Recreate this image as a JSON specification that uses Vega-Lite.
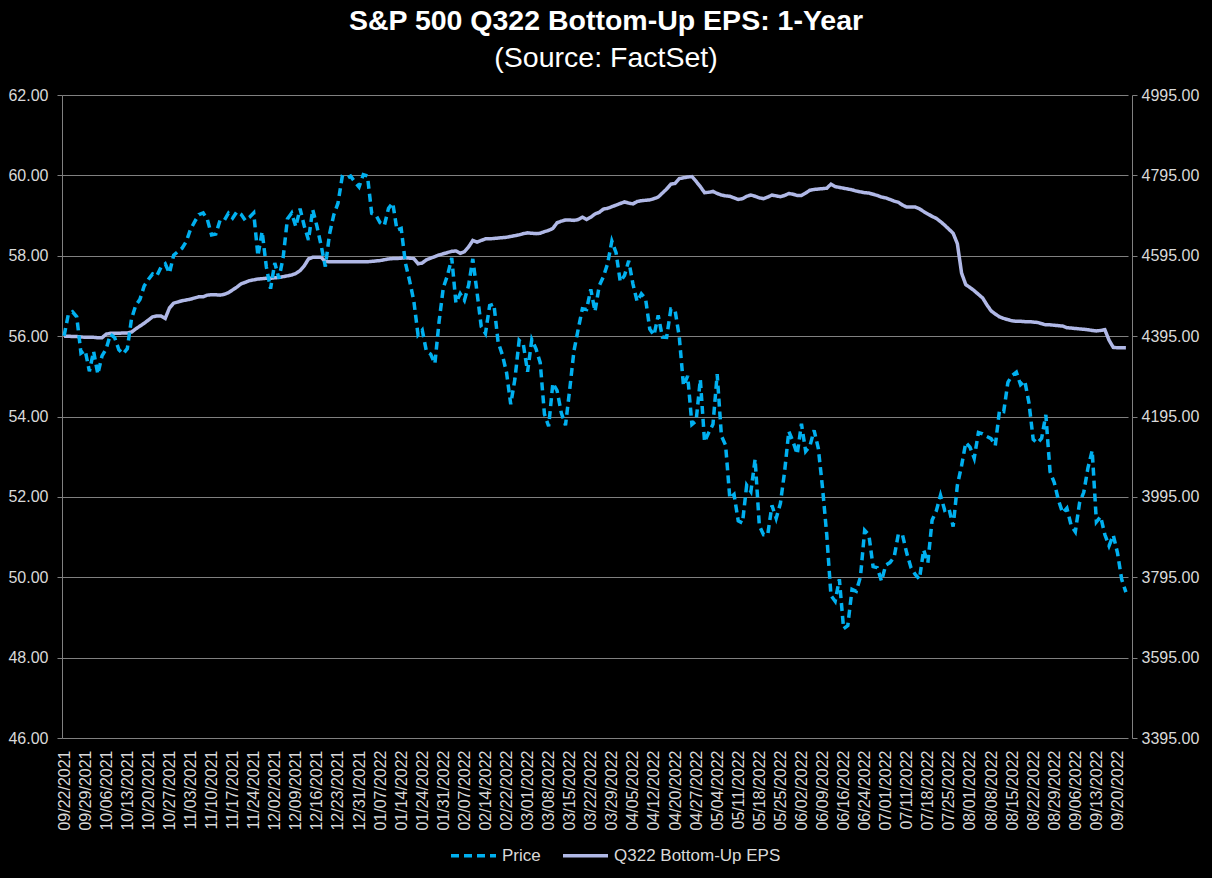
{
"$schema": "https://vega.github.io/schema/vega-lite/v6.json",
"width": 1070, "height": 643,
"autosize": {"type": "none"},
"padding": {"left": 62, "top": 95, "right": 80, "bottom": 140},
"background": "#000000",
"title": {"text": "S&P 500 Q322 Bottom-Up EPS: 1-Year", "subtitle": "(Source: FactSet)", "anchor": "middle", "frame": "group", "dx": 9, "offset": 15, "color": "#ffffff", "subtitleColor": "#ffffff", "font": "Liberation Sans", "fontSize": 28.5, "fontWeight": "bold", "subtitleFont": "Liberation Sans", "subtitleFontSize": 28.5, "subtitleFontWeight": "normal", "subtitlePadding": 8},
"config": {"view": {"stroke": null}, "axis": {"labelFont": "Liberation Sans", "labelColor": "#d9d9d9", "labelFontSize": 16, "domainColor": "#808080", "tickColor": "#808080", "gridColor": "#808080", "title": null}},
"data": {"values": [
{"d":"09/22/2021","price":4395.64,"eps":56.00},
{"d":"09/23/2021","price":4448.98,"eps":56.00},
{"d":"09/24/2021","price":4455.48,"eps":55.99},
{"d":"09/27/2021","price":4443.11,"eps":55.99},
{"d":"09/28/2021","price":4352.63,"eps":55.98},
{"d":"09/29/2021","price":4359.46,"eps":55.97},
{"d":"09/30/2021","price":4307.54,"eps":55.97},
{"d":"10/01/2021","price":4357.04,"eps":55.97},
{"d":"10/04/2021","price":4300.46,"eps":55.96},
{"d":"10/05/2021","price":4345.72,"eps":55.96},
{"d":"10/06/2021","price":4363.55,"eps":56.05},
{"d":"10/07/2021","price":4399.76,"eps":56.07},
{"d":"10/08/2021","price":4391.34,"eps":56.07},
{"d":"10/11/2021","price":4361.19,"eps":56.07},
{"d":"10/12/2021","price":4350.65,"eps":56.08},
{"d":"10/13/2021","price":4363.80,"eps":56.08},
{"d":"10/14/2021","price":4438.26,"eps":56.10},
{"d":"10/15/2021","price":4471.37,"eps":56.18},
{"d":"10/18/2021","price":4486.46,"eps":56.25},
{"d":"10/19/2021","price":4519.63,"eps":56.32},
{"d":"10/20/2021","price":4536.19,"eps":56.40},
{"d":"10/21/2021","price":4549.78,"eps":56.48},
{"d":"10/22/2021","price":4544.90,"eps":56.50},
{"d":"10/25/2021","price":4566.48,"eps":56.50},
{"d":"10/26/2021","price":4574.79,"eps":56.44},
{"d":"10/27/2021","price":4551.68,"eps":56.70},
{"d":"10/28/2021","price":4596.42,"eps":56.82},
{"d":"10/29/2021","price":4605.38,"eps":56.85},
{"d":"11/01/2021","price":4613.67,"eps":56.88},
{"d":"11/02/2021","price":4630.65,"eps":56.90},
{"d":"11/03/2021","price":4660.57,"eps":56.92},
{"d":"11/04/2021","price":4680.06,"eps":56.95},
{"d":"11/05/2021","price":4697.53,"eps":56.98},
{"d":"11/08/2021","price":4701.70,"eps":56.98},
{"d":"11/09/2021","price":4685.25,"eps":57.02},
{"d":"11/10/2021","price":4646.71,"eps":57.03},
{"d":"11/11/2021","price":4649.27,"eps":57.03},
{"d":"11/12/2021","price":4682.85,"eps":57.02},
{"d":"11/15/2021","price":4682.80,"eps":57.04},
{"d":"11/16/2021","price":4700.90,"eps":57.08},
{"d":"11/17/2021","price":4688.67,"eps":57.15},
{"d":"11/18/2021","price":4704.54,"eps":57.22},
{"d":"11/19/2021","price":4697.96,"eps":57.30},
{"d":"11/22/2021","price":4682.94,"eps":57.34},
{"d":"11/23/2021","price":4690.70,"eps":57.38},
{"d":"11/24/2021","price":4701.46,"eps":57.40},
{"d":"11/26/2021","price":4594.62,"eps":57.42},
{"d":"11/29/2021","price":4655.27,"eps":57.43},
{"d":"11/30/2021","price":4567.00,"eps":57.44},
{"d":"12/01/2021","price":4513.04,"eps":57.44},
{"d":"12/02/2021","price":4577.10,"eps":57.45},
{"d":"12/03/2021","price":4538.43,"eps":57.46},
{"d":"12/06/2021","price":4591.67,"eps":57.48},
{"d":"12/07/2021","price":4686.75,"eps":57.50},
{"d":"12/08/2021","price":4701.21,"eps":57.52},
{"d":"12/09/2021","price":4667.45,"eps":57.56},
{"d":"12/10/2021","price":4712.02,"eps":57.63},
{"d":"12/13/2021","price":4668.97,"eps":57.75},
{"d":"12/14/2021","price":4634.09,"eps":57.92},
{"d":"12/15/2021","price":4709.85,"eps":57.96},
{"d":"12/16/2021","price":4668.67,"eps":57.96},
{"d":"12/17/2021","price":4620.64,"eps":57.96},
{"d":"12/20/2021","price":4568.02,"eps":57.86},
{"d":"12/21/2021","price":4649.23,"eps":57.85},
{"d":"12/22/2021","price":4696.56,"eps":57.85},
{"d":"12/23/2021","price":4725.79,"eps":57.85},
{"d":"12/27/2021","price":4791.19,"eps":57.85},
{"d":"12/28/2021","price":4786.35,"eps":57.85},
{"d":"12/29/2021","price":4793.06,"eps":57.85},
{"d":"12/30/2021","price":4778.73,"eps":57.85},
{"d":"12/31/2021","price":4766.18,"eps":57.85},
{"d":"01/03/2022","price":4796.56,"eps":57.85},
{"d":"01/04/2022","price":4793.54,"eps":57.85},
{"d":"01/05/2022","price":4700.58,"eps":57.86},
{"d":"01/06/2022","price":4696.05,"eps":57.87},
{"d":"01/07/2022","price":4677.03,"eps":57.88},
{"d":"01/10/2022","price":4670.29,"eps":57.90},
{"d":"01/11/2022","price":4713.07,"eps":57.92},
{"d":"01/12/2022","price":4726.35,"eps":57.93},
{"d":"01/13/2022","price":4659.03,"eps":57.93},
{"d":"01/14/2022","price":4662.85,"eps":57.94},
{"d":"01/18/2022","price":4577.11,"eps":57.95},
{"d":"01/19/2022","price":4532.76,"eps":57.94},
{"d":"01/20/2022","price":4482.73,"eps":57.93},
{"d":"01/21/2022","price":4397.94,"eps":57.80},
{"d":"01/24/2022","price":4410.13,"eps":57.82},
{"d":"01/25/2022","price":4356.45,"eps":57.90},
{"d":"01/26/2022","price":4349.93,"eps":57.94},
{"d":"01/27/2022","price":4326.51,"eps":57.98},
{"d":"01/28/2022","price":4431.85,"eps":58.02},
{"d":"01/31/2022","price":4515.55,"eps":58.05},
{"d":"02/01/2022","price":4546.54,"eps":58.08},
{"d":"02/02/2022","price":4589.38,"eps":58.11},
{"d":"02/03/2022","price":4477.44,"eps":58.12},
{"d":"02/04/2022","price":4500.53,"eps":58.06},
{"d":"02/07/2022","price":4483.87,"eps":58.10},
{"d":"02/08/2022","price":4521.54,"eps":58.22},
{"d":"02/09/2022","price":4587.18,"eps":58.38},
{"d":"02/10/2022","price":4504.08,"eps":58.34},
{"d":"02/11/2022","price":4418.64,"eps":58.38},
{"d":"02/14/2022","price":4401.67,"eps":58.42},
{"d":"02/15/2022","price":4471.07,"eps":58.42},
{"d":"02/16/2022","price":4475.01,"eps":58.43},
{"d":"02/17/2022","price":4380.26,"eps":58.44},
{"d":"02/18/2022","price":4348.87,"eps":58.45},
{"d":"02/22/2022","price":4304.76,"eps":58.46},
{"d":"02/23/2022","price":4225.50,"eps":58.48},
{"d":"02/24/2022","price":4288.70,"eps":58.50},
{"d":"02/25/2022","price":4384.65,"eps":58.52},
{"d":"02/28/2022","price":4373.94,"eps":58.55},
{"d":"03/01/2022","price":4306.26,"eps":58.57},
{"d":"03/02/2022","price":4386.54,"eps":58.56},
{"d":"03/03/2022","price":4363.49,"eps":58.55},
{"d":"03/04/2022","price":4328.87,"eps":58.56},
{"d":"03/07/2022","price":4201.09,"eps":58.60},
{"d":"03/08/2022","price":4170.70,"eps":58.63},
{"d":"03/09/2022","price":4277.88,"eps":58.68},
{"d":"03/10/2022","price":4259.52,"eps":58.82},
{"d":"03/11/2022","price":4204.31,"eps":58.86},
{"d":"03/14/2022","price":4173.11,"eps":58.89},
{"d":"03/15/2022","price":4262.45,"eps":58.89},
{"d":"03/16/2022","price":4357.86,"eps":58.88},
{"d":"03/17/2022","price":4411.67,"eps":58.90},
{"d":"03/18/2022","price":4463.12,"eps":58.96},
{"d":"03/21/2022","price":4461.18,"eps":58.90},
{"d":"03/22/2022","price":4511.61,"eps":58.96},
{"d":"03/23/2022","price":4456.24,"eps":59.04},
{"d":"03/24/2022","price":4520.16,"eps":59.08},
{"d":"03/25/2022","price":4543.06,"eps":59.16},
{"d":"03/28/2022","price":4575.52,"eps":59.18},
{"d":"03/29/2022","price":4631.60,"eps":59.22},
{"d":"03/30/2022","price":4602.45,"eps":59.26},
{"d":"03/31/2022","price":4530.41,"eps":59.30},
{"d":"04/01/2022","price":4545.86,"eps":59.34},
{"d":"04/04/2022","price":4582.64,"eps":59.31},
{"d":"04/05/2022","price":4525.12,"eps":59.29},
{"d":"04/06/2022","price":4481.15,"eps":59.35},
{"d":"04/07/2022","price":4500.21,"eps":59.37},
{"d":"04/08/2022","price":4488.28,"eps":59.38},
{"d":"04/11/2022","price":4412.53,"eps":59.39},
{"d":"04/12/2022","price":4397.45,"eps":59.42},
{"d":"04/13/2022","price":4446.59,"eps":59.46},
{"d":"04/14/2022","price":4392.59,"eps":59.56},
{"d":"04/18/2022","price":4391.69,"eps":59.66},
{"d":"04/19/2022","price":4462.21,"eps":59.78},
{"d":"04/20/2022","price":4459.45,"eps":59.80},
{"d":"04/21/2022","price":4393.66,"eps":59.92},
{"d":"04/22/2022","price":4271.78,"eps":59.94},
{"d":"04/25/2022","price":4296.12,"eps":59.96},
{"d":"04/26/2022","price":4175.20,"eps":59.97},
{"d":"04/27/2022","price":4183.96,"eps":59.85},
{"d":"04/28/2022","price":4287.50,"eps":59.72},
{"d":"04/29/2022","price":4131.93,"eps":59.57},
{"d":"05/02/2022","price":4155.38,"eps":59.58},
{"d":"05/03/2022","price":4175.48,"eps":59.60},
{"d":"05/04/2022","price":4300.17,"eps":59.55},
{"d":"05/05/2022","price":4146.87,"eps":59.51},
{"d":"05/06/2022","price":4123.34,"eps":59.49},
{"d":"05/09/2022","price":3991.24,"eps":59.48},
{"d":"05/10/2022","price":4001.05,"eps":59.44},
{"d":"05/11/2022","price":3935.18,"eps":59.40},
{"d":"05/12/2022","price":3930.08,"eps":59.42},
{"d":"05/13/2022","price":4023.89,"eps":59.48},
{"d":"05/16/2022","price":4008.01,"eps":59.51},
{"d":"05/17/2022","price":4088.85,"eps":59.48},
{"d":"05/18/2022","price":3923.68,"eps":59.44},
{"d":"05/19/2022","price":3900.79,"eps":59.42},
{"d":"05/20/2022","price":3901.36,"eps":59.46},
{"d":"05/23/2022","price":3973.75,"eps":59.51},
{"d":"05/24/2022","price":3941.48,"eps":59.49},
{"d":"05/25/2022","price":3978.73,"eps":59.47},
{"d":"05/26/2022","price":4057.84,"eps":59.50},
{"d":"05/27/2022","price":4158.24,"eps":59.55},
{"d":"05/31/2022","price":4132.15,"eps":59.53},
{"d":"06/01/2022","price":4101.23,"eps":59.50},
{"d":"06/02/2022","price":4176.82,"eps":59.50},
{"d":"06/03/2022","price":4108.54,"eps":59.56},
{"d":"06/06/2022","price":4121.43,"eps":59.63},
{"d":"06/07/2022","price":4160.68,"eps":59.65},
{"d":"06/08/2022","price":4115.77,"eps":59.66},
{"d":"06/09/2022","price":4017.82,"eps":59.67},
{"d":"06/10/2022","price":3900.86,"eps":59.68},
{"d":"06/13/2022","price":3749.63,"eps":59.78},
{"d":"06/14/2022","price":3735.48,"eps":59.72},
{"d":"06/15/2022","price":3789.99,"eps":59.70},
{"d":"06/16/2022","price":3666.77,"eps":59.68},
{"d":"06/17/2022","price":3674.84,"eps":59.66},
{"d":"06/21/2022","price":3764.79,"eps":59.64},
{"d":"06/22/2022","price":3759.89,"eps":59.61},
{"d":"06/23/2022","price":3795.73,"eps":59.59},
{"d":"06/24/2022","price":3911.74,"eps":59.57},
{"d":"06/27/2022","price":3900.11,"eps":59.56},
{"d":"06/28/2022","price":3821.55,"eps":59.53},
{"d":"06/29/2022","price":3818.83,"eps":59.50},
{"d":"06/30/2022","price":3785.38,"eps":59.46},
{"d":"07/01/2022","price":3825.33,"eps":59.44},
{"d":"07/05/2022","price":3831.39,"eps":59.40},
{"d":"07/06/2022","price":3845.08,"eps":59.36},
{"d":"07/07/2022","price":3902.62,"eps":59.33},
{"d":"07/08/2022","price":3899.38,"eps":59.26},
{"d":"07/11/2022","price":3854.43,"eps":59.21},
{"d":"07/12/2022","price":3818.80,"eps":59.21},
{"d":"07/13/2022","price":3801.78,"eps":59.21},
{"d":"07/14/2022","price":3790.38,"eps":59.17},
{"d":"07/15/2022","price":3863.16,"eps":59.10},
{"d":"07/18/2022","price":3830.85,"eps":59.04},
{"d":"07/19/2022","price":3936.69,"eps":58.98},
{"d":"07/20/2022","price":3959.90,"eps":58.93},
{"d":"07/21/2022","price":3998.95,"eps":58.85},
{"d":"07/22/2022","price":3961.63,"eps":58.76},
{"d":"07/25/2022","price":3966.84,"eps":58.66},
{"d":"07/26/2022","price":3921.05,"eps":58.56},
{"d":"07/27/2022","price":4023.61,"eps":58.30},
{"d":"07/28/2022","price":4072.43,"eps":57.57},
{"d":"07/29/2022","price":4130.29,"eps":57.28},
{"d":"08/01/2022","price":4118.63,"eps":57.21},
{"d":"08/02/2022","price":4091.19,"eps":57.13},
{"d":"08/03/2022","price":4155.17,"eps":57.04},
{"d":"08/04/2022","price":4151.94,"eps":56.95},
{"d":"08/05/2022","price":4145.19,"eps":56.78},
{"d":"08/08/2022","price":4140.06,"eps":56.63},
{"d":"08/09/2022","price":4122.47,"eps":56.55},
{"d":"08/10/2022","price":4210.24,"eps":56.48},
{"d":"08/11/2022","price":4207.27,"eps":56.44},
{"d":"08/12/2022","price":4280.15,"eps":56.41},
{"d":"08/15/2022","price":4297.14,"eps":56.38},
{"d":"08/16/2022","price":4305.20,"eps":56.37},
{"d":"08/17/2022","price":4274.04,"eps":56.37},
{"d":"08/18/2022","price":4283.74,"eps":56.36},
{"d":"08/19/2022","price":4228.48,"eps":56.36},
{"d":"08/22/2022","price":4137.99,"eps":56.35},
{"d":"08/23/2022","price":4128.73,"eps":56.34},
{"d":"08/24/2022","price":4140.77,"eps":56.31},
{"d":"08/25/2022","price":4199.12,"eps":56.28},
{"d":"08/26/2022","price":4057.66,"eps":56.28},
{"d":"08/29/2022","price":4030.61,"eps":56.27},
{"d":"08/30/2022","price":3986.16,"eps":56.26},
{"d":"08/31/2022","price":3955.00,"eps":56.25},
{"d":"09/01/2022","price":3966.85,"eps":56.21},
{"d":"09/02/2022","price":3924.26,"eps":56.20},
{"d":"09/06/2022","price":3908.19,"eps":56.19},
{"d":"09/07/2022","price":3979.87,"eps":56.18},
{"d":"09/08/2022","price":4006.18,"eps":56.17},
{"d":"09/09/2022","price":4067.36,"eps":56.16},
{"d":"09/12/2022","price":4110.41,"eps":56.14},
{"d":"09/13/2022","price":3932.69,"eps":56.13},
{"d":"09/14/2022","price":3946.01,"eps":56.14},
{"d":"09/15/2022","price":3901.35,"eps":56.16},
{"d":"09/16/2022","price":3873.33,"eps":55.90},
{"d":"09/19/2022","price":3899.89,"eps":55.72},
{"d":"09/20/2022","price":3855.93,"eps":55.71},
{"d":"09/21/2022","price":3789.93,"eps":55.71},
{"d":"09/22/2022","price":3757.99,"eps":55.71}
]},
"encoding": {
  "x": {"field": "d", "type": "ordinal", "sort": null,
    "scale": {"type": "point", "range": [0, 1066]},
    "axis": {"values": ["09/22/2021","09/29/2021","10/06/2021","10/13/2021","10/20/2021","10/27/2021","11/03/2021","11/10/2021","11/17/2021","11/24/2021","12/02/2021","12/09/2021","12/16/2021","12/23/2021","12/31/2021","01/07/2022","01/14/2022","01/24/2022","01/31/2022","02/07/2022","02/14/2022","02/22/2022","03/01/2022","03/08/2022","03/15/2022","03/22/2022","03/29/2022","04/05/2022","04/12/2022","04/20/2022","04/27/2022","05/04/2022","05/11/2022","05/18/2022","05/25/2022","06/02/2022","06/09/2022","06/16/2022","06/24/2022","07/01/2022","07/11/2022","07/18/2022","07/25/2022","08/01/2022","08/08/2022","08/15/2022","08/22/2022","08/29/2022","09/06/2022","09/13/2022","09/20/2022"],
      "labelAngle": -90, "labelAlign": "right", "labelBaseline": "middle", "labelPadding": 12, "ticks": false, "grid": false, "labelOverlap": false, "labelBound": false, "domain": false}}
},
"layer": [
  {"mark": {"type": "line", "strokeWidth": 3.5, "strokeCap": "butt"},
   "encoding": {
     "y": {"field": "eps", "type": "quantitative", "scale": {"domain": [46, 62], "nice": false, "zero": false},
       "axis": {"orient": "left", "values": [46,48,50,52,54,56,58,60,62], "format": ".2f", "grid": true, "gridWidth": 1, "tickSize": 5, "labelPadding": 9, "domain": true}},
     "color": {"datum": "Q322 Bottom-Up EPS", "type": "nominal", "scale": {"domain": ["Price", "Q322 Bottom-Up EPS"], "range": ["#00B0F0", "#B0B8E6"]},
       "legend": {"title": null, "orient": "none", "direction": "horizontal", "legendX": 387, "legendY": 736, "symbolType": "stroke", "symbolSize": 2025, "symbolStrokeWidth": 3.5, "labelFontSize": 17, "labelColor": "#d9d9d9", "labelFont": "Liberation Sans", "labelOffset": 4, "labelLimit": 0, "columnPadding": 15}},
     "strokeDash": {"datum": "Q322 Bottom-Up EPS", "type": "nominal", "scale": {"domain": ["Price", "Q322 Bottom-Up EPS"], "range": [[8, 5], [1, 0]]},
       "legend": {"title": null, "orient": "none", "direction": "horizontal", "legendX": 387, "legendY": 736, "symbolType": "stroke", "symbolSize": 2025, "symbolStrokeWidth": 3.5, "labelFontSize": 17, "labelColor": "#d9d9d9", "labelFont": "Liberation Sans", "labelOffset": 4, "labelLimit": 0, "columnPadding": 15}}
   }},
  {"mark": {"type": "line", "strokeWidth": 3.5, "strokeCap": "butt"},
   "encoding": {
     "y": {"field": "price", "type": "quantitative", "scale": {"domain": [3395, 4995], "nice": false, "zero": false},
       "axis": {"orient": "right", "values": [3395,3595,3795,3995,4195,4395,4595,4795,4995], "format": ".2f", "grid": false, "tickSize": 5, "labelPadding": 4, "domain": true}},
     "color": {"datum": "Price", "type": "nominal"},
     "strokeDash": {"datum": "Price", "type": "nominal"}
   }}
],
"resolve": {"scale": {"y": "independent"}}
}
